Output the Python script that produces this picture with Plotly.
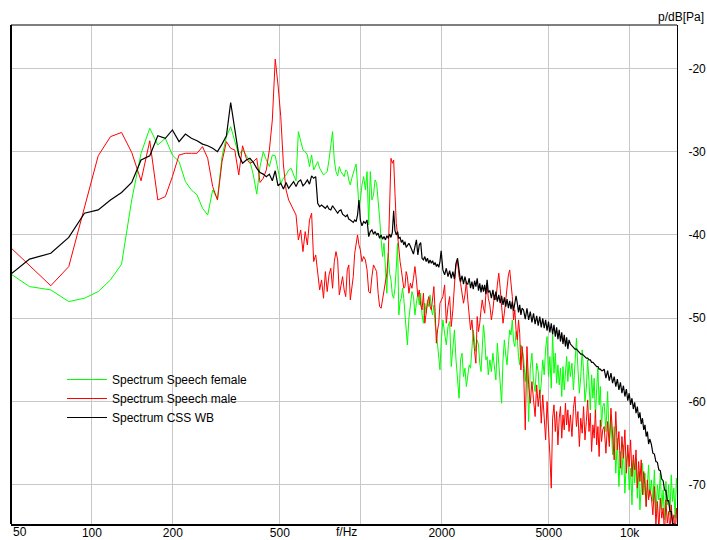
import math
import plotly.graph_objects as go

# ---------------- data ----------------
freq_low_hz = [46.9, 58.6, 70.3, 82.0, 93.8, 105.5, 117.2, 128.9, 140.6, 152.3,
               164.1, 175.8, 187.5, 199.2, 210.9, 222.7, 234.4, 246.1, 257.8, 269.5,
               281.3, 293.0, 304.7, 316.4, 328.1, 339.8, 351.6, 363.3, 375.0, 386.7,
               398.4, 410.2, 421.9, 433.6, 445.3, 457.0, 468.8, 480.5, 492.2, 503.9,
               515.6, 527.3, 539.1, 550.8, 562.5, 574.2, 585.9, 597.7, 609.4, 621.1,
               632.8, 644.5, 656.3, 668.0, 679.7, 691.4, 703.1, 714.8, 726.6, 738.3,
               750.0, 761.7, 773.4, 785.2, 796.9, 808.6, 820.3, 832.0, 843.8, 855.5,
               867.2, 878.9, 890.6, 902.3, 914.1, 925.8, 937.5, 949.2, 960.9, 972.7,
               984.4, 996.1]

female_low_db = [-44.1, -46.2, -46.6, -48.0, -47.6, -46.8, -45.4, -43.5, -35.8, -30.2,
                 -27.2, -29.2, -28.4, -30.4, -31.2, -33.6, -34.6, -35.2, -36.8, -37.6,
                 -34.6, -35.7, -30.6, -28.2, -27.0, -28.8, -30.4, -29.8, -30.5, -31.1,
                 -32.8, -35.1, -31.8, -30.0, -31.0, -31.8, -30.4, -30.5, -32.2, -33.8,
                 -33.2, -32.8, -32.2, -32.0, -32.8, -33.5, -27.6, -28.6, -29.8, -30.0,
                 -30.4, -31.8, -30.4, -32.2, -31.6, -31.2, -32.0, -32.4, -32.8, -32.6,
                 -32.4, -31.0, -29.2, -27.6, -31.0, -32.4, -32.9, -31.8, -32.4, -32.8,
                 -33.0, -32.2, -32.4, -33.4, -34.0, -33.2, -32.4, -32.0, -31.5, -34.0,
                 -36.6, -35.8]

male_low_db = [-40.7, -43.7, -46.1, -43.8, -36.6, -30.5, -28.2, -27.7, -30.1, -33.5,
               -28.7, -35.8, -35.4, -33.0, -30.4, -30.2, -30.2, -30.2, -29.4, -30.8,
               -34.2, -35.8, -31.2, -28.8, -29.6, -29.8, -32.8, -29.3, -30.8, -31.4,
               -31.2, -30.8, -33.7, -33.2, -32.2, -29.8, -26.2, -18.9, -22.0, -25.8,
               -31.6, -34.6, -35.8, -36.4, -37.0, -37.6, -40.6, -39.4, -42.0, -39.6,
               -41.2, -38.2, -37.4, -43.2, -42.4, -44.8, -46.6, -45.4, -47.6, -44.4,
               -46.8, -44.8, -44.0, -46.4, -43.2, -42.0, -43.0, -47.2, -46.0, -45.0,
               -46.6, -47.4, -44.2, -43.6, -47.8, -46.0, -45.0, -42.2, -41.2, -40.0,
               -41.2, -41.8]

css_low_db = [-45.4, -42.9, -42.2, -40.3, -37.4, -37.0, -35.8, -34.9, -33.7, -31.0,
              -30.5, -28.1, -28.4, -27.4, -28.8, -27.9, -28.4, -28.7, -29.1, -29.3,
              -29.6, -30.0, -29.1, -28.1, -24.1, -27.6, -30.4, -31.4, -31.0, -30.8,
              -31.3, -32.0, -32.5, -32.7, -33.0, -32.7, -33.5, -32.3, -34.1, -33.8,
              -34.5, -33.7, -34.4, -34.0, -33.6, -34.2, -33.6, -33.4, -34.1, -33.8,
              -33.4, -33.9, -32.9, -33.2, -33.0, -36.2, -36.6, -36.4, -36.6, -36.8,
              -36.5, -36.9, -37.0, -36.5, -36.8, -37.1, -37.4, -37.1, -37.0, -37.5,
              -37.7, -37.8, -37.6, -38.1, -38.2, -38.3, -38.5, -38.2, -38.4, -37.6,
              -35.8, -38.2]

freq_high_hz = [
    1010, 1025, 1040, 1055, 1070, 1085, 1100, 1115, 1130, 1145, 1160, 1175, 1190, 1205, 1220, 1235, 1250,
    1265, 1280, 1295, 1310, 1325, 1340, 1355, 1370, 1385, 1400, 1415, 1430, 1445, 1460, 1475, 1490,
    1510, 1530, 1550, 1570, 1590, 1610, 1630, 1650, 1670, 1690, 1710, 1730, 1750, 1770, 1790, 1810,
    1830, 1850, 1870, 1890, 1910, 1930, 1950, 1970, 1990,
    2020, 2050, 2080, 2110, 2140, 2170, 2200, 2230, 2260, 2290, 2320, 2350, 2380, 2410, 2440, 2470, 2500,
    2530, 2560, 2590, 2620, 2650, 2680, 2710, 2740, 2770, 2800, 2830, 2860, 2890, 2920, 2950, 2980,
    3020, 3060, 3100, 3140, 3180, 3220, 3260, 3300, 3340, 3380, 3420, 3460, 3500, 3540, 3580, 3620,
    3660, 3700, 3740, 3780, 3820, 3860, 3900, 3940, 3980,
    4030, 4090, 4150, 4210, 4270, 4330, 4390, 4450, 4510, 4570, 4630, 4690, 4750, 4810, 4870, 4930, 4990,
    5050, 5110, 5170, 5230, 5290, 5350, 5410, 5470, 5530, 5590, 5650, 5710, 5770, 5830, 5890, 5950,
    6020, 6100, 6180, 6260, 6340, 6420, 6500, 6580, 6660, 6740, 6820, 6900, 6980, 7060, 7140, 7220,
    7300, 7380, 7460, 7540, 7620, 7700, 7780, 7860, 7940,
    8040, 8160, 8280, 8400, 8520, 8640, 8760, 8880, 9000, 9120, 9240, 9360, 9480, 9600, 9720, 9840, 9960,
    10080, 10200, 10320, 10440, 10560, 10680, 10800, 10920, 11040, 11160, 11280, 11400, 11520, 11640, 11760, 11880,
    12040, 12200, 12360, 12520, 12680, 12840, 13000, 13160, 13320, 13480, 13640, 13800, 13960, 14120,
    14280, 14440, 14600, 14760, 14920, 15080]

female_high_db = [
    -34.0, -33.0, -34.6, -32.4, -38.8, -32.4, -35.8, -35.2, -33.4, -33.8, -36.6, -38.0, -40.6, -42.6, -41.0, -44.2, -47.0,
    -42.2, -44.6, -45.4, -47.2, -47.6, -46.4, -44.0, -41.0, -49.6, -48.0, -47.6, -46.4, -47.6, -49.8, -51.4, -53.2,
    -50.0, -48.6, -46.8, -47.4, -49.6, -48.2, -47.0, -48.4, -47.0, -49.6, -50.6, -48.2, -49.4, -47.8, -48.6, -47.2,
    -49.0, -49.6, -48.4, -50.8, -51.6, -53.2, -54.4, -56.2, -53.0,
    -50.2, -51.8, -53.2, -51.0, -50.4, -55.8, -53.0, -51.4, -55.0, -57.8, -59.6, -55.0, -54.2, -57.0, -56.0, -58.2, -56.8,
    -55.6, -56.0, -53.6, -51.4, -52.8, -54.0, -52.6, -53.2, -55.4, -56.4, -53.6, -50.8, -52.4, -55.0, -54.6, -56.8,
    -55.0, -56.4, -54.2, -55.6, -57.4, -53.0, -55.8, -58.4, -60.2, -55.0, -52.6, -54.4, -55.6, -53.2, -51.4, -52.0,
    -50.2, -52.8, -53.4, -51.6, -52.4, -54.6, -55.6, -53.2, -53.6,
    -54.6, -57.6, -55.0, -62.4, -56.0, -54.2, -57.6, -58.8, -55.4, -56.4, -59.6, -57.8, -55.0, -56.8, -53.6, -52.2, -57.0,
    -54.6, -58.4, -51.8, -56.6, -54.2, -57.8, -55.6, -58.0, -56.0, -59.4, -55.8, -58.6, -56.4, -54.6, -57.6, -55.2,
    -57.0, -55.4, -58.6, -54.6, -52.4, -56.0, -59.0, -57.0, -53.8, -56.4, -60.0, -58.4, -55.0, -57.6, -61.0, -56.8,
    -59.6, -57.2, -62.0, -58.4, -56.0, -60.4, -58.2, -63.0, -60.6,
    -60.2, -63.6, -58.8, -64.8, -62.0, -66.4, -63.0, -68.6, -64.4, -70.2, -66.0, -68.8, -65.2, -71.0, -67.4, -66.2, -70.6,
    -68.0, -72.4, -67.0, -69.8, -66.8, -71.6, -68.4, -73.0, -69.2, -67.4, -71.2, -68.6, -72.6, -69.8, -67.6, -71.4,
    -69.4, -72.0, -68.2, -73.4, -70.0, -71.8, -68.6, -73.0, -70.6, -74.2, -69.6, -72.4, -70.0, -73.6,
    -68.8, -72.0, -70.4, -74.0, -69.2, -71.6]

male_high_db = [
    -43.2, -42.6, -43.0, -44.2, -46.8, -47.0, -45.0, -43.6, -44.0, -44.4, -47.0, -48.6, -48.8, -47.8, -46.6, -45.6, -44.6,
    -42.4, -37.0, -30.8, -31.4, -31.0, -35.0, -38.6, -40.0, -42.0, -43.2, -44.2, -45.6, -46.4, -46.2, -44.4, -45.0,
    -47.0, -45.8, -46.4, -45.2, -43.8, -45.4, -47.4, -46.6, -48.4, -49.0, -47.0, -50.6, -49.0, -48.2, -47.4, -48.6,
    -49.0, -47.6, -46.2, -49.2, -53.0, -51.4, -50.6, -48.2, -47.8,
    -47.4, -46.0, -50.6, -48.6, -47.4, -51.0, -49.0, -46.0, -43.6, -43.2, -45.0, -45.8, -47.0, -48.2, -47.2, -45.6, -47.8,
    -50.0, -51.4, -50.2, -52.6, -54.0, -55.4, -49.8, -51.6, -50.6, -49.0, -47.8, -48.8, -49.4, -47.0, -45.8, -47.6,
    -48.4, -50.2, -49.0, -47.2, -47.8, -46.0, -44.6, -46.4, -48.2, -50.6, -49.4, -47.6, -45.8, -44.8, -44.2, -45.6,
    -47.4, -50.2, -49.0, -51.4, -52.6, -50.2, -51.8, -56.2, -53.4,
    -56.0, -63.4, -53.4, -58.0, -60.2, -57.6, -59.8, -61.8, -58.0, -60.6, -58.6, -62.6, -59.2, -61.4, -64.6, -60.0, -62.8,
    -66.4, -70.4, -62.0, -60.4, -63.6, -61.2, -65.2, -62.0, -60.6, -64.4, -61.6, -63.4, -60.2, -62.8, -61.0, -63.6,
    -61.6, -64.2, -60.8, -59.4, -63.0, -61.2, -65.4, -62.0, -63.8, -60.6, -64.6, -62.4, -59.8, -63.6, -61.4, -66.0,
    -62.8, -64.4, -61.0, -65.2, -63.0, -66.6, -62.2, -64.8, -63.4,
    -63.0, -66.2, -62.4, -65.4, -60.8, -64.6, -67.0, -61.2, -65.8, -63.6, -68.0, -64.2, -66.8, -63.4, -68.6, -65.2, -67.8,
    -64.6, -69.0, -66.4, -68.2, -65.8, -70.4, -67.2, -69.6, -67.0, -71.2, -68.4, -70.0, -72.6, -69.4, -71.8, -70.6,
    -71.4, -73.6, -70.2, -74.8, -72.0, -75.4, -71.6, -74.0, -72.8, -76.0, -71.8, -74.6, -73.2, -75.8,
    -72.4, -74.8, -73.6, -76.2, -72.8, -75.0]

css_high_db = [
    -38.9, -38.4, -38.6, -38.2, -40.2, -39.6, -39.4, -39.9, -39.6, -40.0, -39.8, -40.4, -40.0, -40.5, -40.2, -40.6, -40.1,
    -40.4, -39.9, -40.3, -39.7, -37.1, -39.5, -40.0, -39.6, -40.4, -40.3, -40.9, -40.6, -41.2, -40.8, -41.5, -41.2,
    -41.0, -41.4, -41.8, -42.3, -41.4, -40.6, -42.4, -41.2, -40.9, -42.8, -43.0, -42.6, -43.2, -42.8, -43.4, -43.0,
    -43.4, -43.1, -43.6, -43.3, -43.8, -43.5, -43.9, -43.2, -41.9,
    -44.2, -44.8, -44.0, -45.0, -44.3, -45.2, -44.4, -45.3, -43.4, -42.8, -44.6, -45.6, -44.9, -45.9, -45.0, -45.8, -45.9,
    -45.2, -46.4, -45.6, -46.5, -45.5, -46.2, -45.2, -46.7, -45.8, -46.9, -46.0, -46.8, -46.0, -47.1, -45.4, -46.9,
    -46.7, -47.6, -46.6, -47.8, -46.8, -48.0, -47.2, -48.2, -47.3, -48.4, -47.5, -48.6, -47.7, -48.8, -47.9, -48.9,
    -48.0, -49.1, -48.1, -47.3, -48.2, -49.3, -48.4, -49.6, -48.8,
    -49.0, -50.1, -48.8, -50.2, -49.2, -50.5, -49.4, -50.7, -49.7, -50.9, -49.8, -51.1, -50.0, -51.2, -50.2, -51.5, -50.4,
    -51.7, -50.6, -51.9, -50.8, -52.2, -51.1, -52.5, -51.4, -52.8, -51.7, -53.1, -52.0, -53.4, -52.3, -53.7, -52.6,
    -53.1, -53.3, -53.5, -53.7, -53.7, -53.9, -54.0, -54.3, -54.3, -54.5, -54.6, -54.8, -54.8, -55.0, -55.0, -55.3,
    -55.3, -55.5, -55.6, -55.8, -55.8, -56.1, -56.1, -56.3, -56.3,
    -56.1, -57.2, -56.3, -57.5, -56.6, -57.8, -57.0, -58.2, -57.3, -58.6, -57.7, -59.0, -58.1, -59.4, -58.5, -59.9, -59.0,
    -60.4, -59.6, -60.9, -60.1, -61.4, -60.6, -62.0, -61.3, -62.7, -62.0, -63.4, -62.8, -64.2, -63.6, -65.1, -64.5,
    -65.1, -66.2, -66.3, -67.2, -67.3, -68.2, -68.3, -69.3, -69.5, -70.6, -70.7, -71.9, -71.9, -73.2,
    -73.2, -74.6, -74.7, -76.1, -76.3, -77.7]

x_tick_values = [50, 100, 200, 500, 1000, 2000, 5000, 10000]
x_tick_labels = ["", "100", "200", "500", "", "2000", "5000", "10k"]
y_tick_values = [-70, -60, -50, -40, -30, -20]
y_tick_labels = ["-70", "-60", "-50", "-40", "-30", "-20"]

series_names = ["Spectrum Speech female", "Spectrum Speech male", "Spectrum CSS WB"]
series_colors = ["#00ff00", "#ff0000", "#000000"]

for arr in (female_high_db, male_high_db, css_high_db):
    assert len(arr) == len(freq_high_hz), (len(arr), len(freq_high_hz))
for arr in (female_low_db, male_low_db, css_low_db):
    assert len(arr) == len(freq_low_hz), (len(arr), len(freq_low_hz))

freq_all = freq_low_hz + freq_high_hz
series_values = [female_low_db + female_high_db,
                 male_low_db + male_high_db,
                 css_low_db + css_high_db]

FONT = "Liberation Sans, Arial, sans-serif"

fig = go.Figure()
for name, color, vals in zip(series_names, series_colors, series_values):
    fig.add_trace(go.Scatter(x=freq_all, y=vals, mode="lines", name=name,
                             line=dict(color=color, width=1.2 if color == "#000000" else 1)))

fig.update_layout(
    width=707, height=540, autosize=False,
    margin=dict(l=11, r=30, t=25, b=16, pad=0),
    paper_bgcolor="white", plot_bgcolor="white",
    font=dict(family=FONT, size=12, color="#000000"),
    showlegend=True,
    legend=dict(x=(62 - 11) / 666, y=(524 - 365) / 499, xanchor="left", yanchor="top",
                bgcolor="rgba(0,0,0,0)", borderwidth=0, itemwidth=40,
                font=dict(family=FONT, size=12, color="#000000")),
    xaxis=dict(type="log", range=[math.log10(50), math.log10(15000)],
               tickvals=x_tick_values, ticktext=x_tick_labels, automargin=False,
               showgrid=True, gridcolor="#c8c8c8", gridwidth=1,
               showline=True, linecolor="#000000", linewidth=2, mirror=False,
               ticks="", zeroline=False, tickfont=dict(size=12),
               ticklabelstandoff=-3),
    yaxis=dict(side="right", range=[-74.7, -14.8], automargin=False,
               tickvals=y_tick_values, ticktext=y_tick_labels,
               showgrid=True, gridcolor="#c8c8c8", gridwidth=1,
               showline=True, linecolor="#000000", linewidth=1, mirror=False,
               ticks="", zeroline=False, tickfont=dict(size=12),
               ticklabelstandoff=8),
    shapes=[
        dict(type="line", xref="paper", yref="paper", x0=0, x1=1, y0=1, y1=1,
             line=dict(color="#000000", width=1)),
        dict(type="line", xref="paper", yref="paper", x0=0, x1=0, y0=0, y1=1,
             line=dict(color="#000000", width=2)),
    ],
    annotations=[
        dict(text="50", x=math.log10(50), xref="x", y=0, yref="paper",
             xanchor="left", yanchor="top", showarrow=False, yshift=1,
             font=dict(family=FONT, size=12, color="#000000")),
        dict(text="f/Hz", x=math.log10(1000), xref="x", y=0, yref="paper",
             xanchor="right", yanchor="top", showarrow=False, yshift=1, xshift=-2,
             font=dict(family=FONT, size=12, color="#000000")),
        dict(text="p/dB[Pa]", x=1.0435, xref="paper", y=(524 - 17) / 499, yref="paper",
             xanchor="right", yanchor="middle", showarrow=False,
             font=dict(family=FONT, size=12, color="#000000")),
    ],
)

post_js = (
    "document.documentElement.style.margin='0';"
    "document.documentElement.style.overflow='hidden';"
    "document.body.style.margin='0';"
    "document.body.style.overflow='hidden';"
    "var gd=document.getElementById('{plot_id}');"
    "gd.style.position='absolute';gd.style.left='0px';gd.style.top='0px';"
)

fig.write_html("out.html", config={"displayModeBar": False}, post_script=post_js)
